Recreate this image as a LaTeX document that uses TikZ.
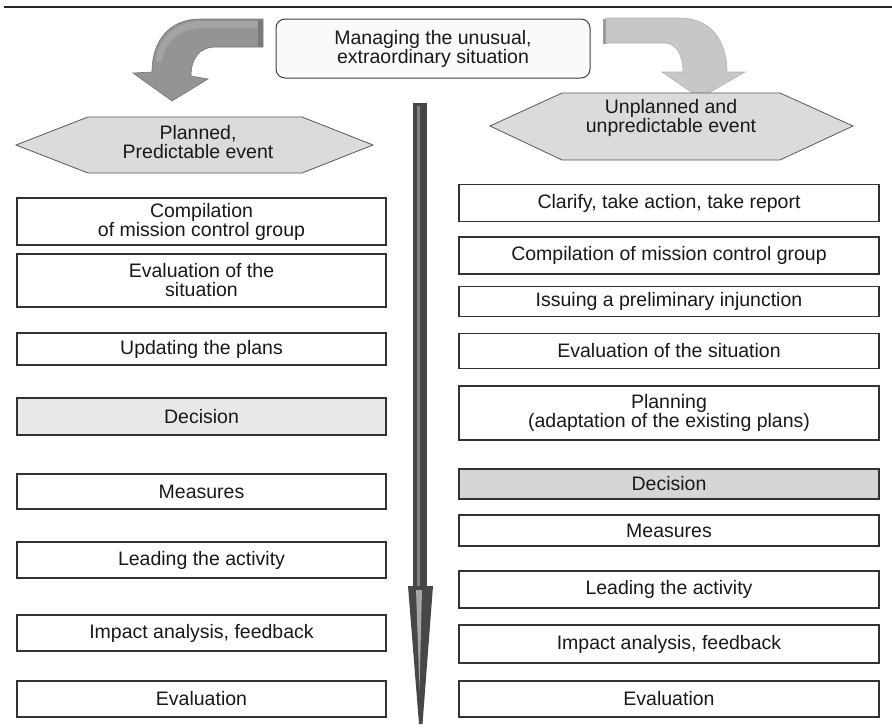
\documentclass[tikz,border=0pt]{standalone}
\usepackage{fontspec}
\setmainfont{Liberation Sans}
\begin{document}
\begin{tikzpicture}[x=1pt,y=-1pt,
  every node/.style={font=\fontsize{19.5}{19}\selectfont, text=black!90},
  stepbox/.style={draw=black!80, line width=1.2pt, fill=white, inner sep=0pt,
    align=center, minimum width=#1},
  leftbox/.style={stepbox=369pt},
  rightbox/.style={stepbox=420pt},
  hexfill/.style={fill=black!14, draw=black!65, line width=0.8pt},
  label/.style={align=center, inner sep=0pt}]
\useasboundingbox (0,0) rectangle (892,728);

% rule across the top
\draw[line width=1.2pt, black!85] (4,7) -- (892,7);

% heading box
\node[draw=black!75, line width=1pt, rounded corners=9pt, fill=black!2,
      minimum width=314pt, minimum height=59pt, align=center, inner sep=0pt]
  (head) at (433,48.5) {Managing the unusual,\\extraordinary situation};

% curved arrow to the left branch
\draw[fill=black!42, draw=black!55, line width=0.6pt]
  (263,19) -- (200,19) .. controls (170,19) and (152,40) .. (152,72)
  -- (133,73) -- (172,101) -- (208,79) -- (191,76)
  .. controls (191,58) and (200,47) .. (215,47) -- (263,47) -- cycle;
\fill[black!36] (261,21) -- (202,21) .. controls (175,21) and (156,40) .. (156,62)
  -- (162,62) .. controls (164,42) and (180,28) .. (204,28) -- (261,28) -- cycle;
\fill[black!52] (258,20) rectangle (263,46.5);

% curved arrow to the right branch
\fill[black!40] (603,19) rectangle (607,44);
\draw[fill=black!22, draw=black!30, line width=0.6pt]
  (606,18) -- (680,18) .. controls (710,18) and (727,40) .. (727,72)
  -- (745,72) -- (700,98) -- (662,72) -- (683,72)
  .. controls (683,55) and (676,43) .. (665,43) -- (606,43) -- cycle;

% the two event types
\draw[hexfill] (16,145) -- (88,117) -- (302,117) -- (373,145)
  -- (302,173) -- (88,173) -- cycle;
\node[label] (planned) at (198,142) {Planned,\\Predictable event};
\draw[hexfill] (490,126) -- (562,93) -- (780,93) -- (853,126)
  -- (780,160) -- (562,160) -- cycle;
\node[label] (unplanned) at (671,118) {Unplanned and\\unpredictable event};

% time axis down the middle
\fill[black!72] (413,103) rectangle (427,588);
\fill[black!50] (417,106) rectangle (419.5,586);
\fill[black!72] (408,586) -- (433,586) -- (422.5,724) -- (419,724) -- cycle;
\fill[black!35] (416,590) -- (422,590) -- (419.5,690) -- cycle;

% planned, predictable event
\node[leftbox, minimum height=47pt] (l1) at (201.5,221.5) {Compilation\\of mission control group};
\node[leftbox, minimum height=53pt] (l2) at (201.5,280.5) {Evaluation of the\\situation};
\node[leftbox, minimum height=32pt] (l3) at (201.5,349) {Updating the plans};
\node[leftbox, minimum height=37pt, fill=black!9] (l4) at (201.5,416.5) {Decision};
\node[leftbox, minimum height=35pt] (l5) at (201.5,491.5) {Measures};
\node[leftbox, minimum height=36pt] (l6) at (201.5,560) {Leading the activity};
\node[leftbox, minimum height=36pt] (l7) at (201.5,633) {Impact analysis, feedback};
\node[leftbox, minimum height=36pt] (l8) at (201.5,699) {Evaluation};

% unplanned, unpredictable event
\node[rightbox, minimum height=37pt] (r1) at (669,203) {Clarify, take action, take report};
\node[rightbox, minimum height=37pt] (r2) at (669,255.5) {Compilation of mission control group};
\node[rightbox, minimum height=30pt] (r3) at (669,301.5) {Issuing a preliminary injunction};
\node[rightbox, minimum height=35pt] (r4) at (669,351) {Evaluation of the situation};
\node[rightbox, minimum height=54pt] (r5) at (669,413) {Planning\\(adaptation of the existing plans)};
\node[rightbox, minimum height=30pt, fill=black!16] (r6) at (669,484) {Decision};
\node[rightbox, minimum height=31pt] (r7) at (669,530.5) {Measures};
\node[rightbox, minimum height=37pt] (r8) at (669,589.5) {Leading the activity};
\node[rightbox, minimum height=38pt] (r9) at (669,644) {Impact analysis, feedback};
\node[rightbox, minimum height=36pt] (r10) at (669,699) {Evaluation};
\end{tikzpicture}
\end{document}
